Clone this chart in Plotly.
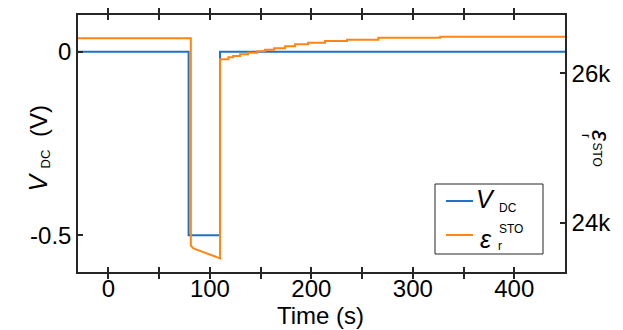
import plotly.graph_objects as go

# ---------------- data ----------------
# V_DC applied voltage (step function)
vdc_time = [-30, 79, 110, 450]
vdc_volts = [0, -0.5, 0, 0]

# dielectric constant of STO (right axis)
eps_pre_time = [-30, 81.2]
eps_pre_level = 26469
decay_time = [81.2, 83.7, 110.0]
decay_eps = [23692, 23657, 23523]
step_time = [110.0, 118.2, 122.9, 129.8, 137.6, 146.5, 154.4, 163.3, 174.1,
             184.0, 196.8, 213.5, 235.2, 266.0, 327.0]
step_eps = [26187, 26214, 26232, 26254, 26276, 26295, 26316, 26335, 26361,
            26388, 26410, 26432, 26450, 26475, 26490]
t_end = 450

x_ticks = [0, 50, 100, 150, 200, 250, 300, 350, 400]
x_ticktext = ["0", "", "100", "", "200", "", "300", "", "400"]
y_ticks = [0, -0.5]
y_ticktext = ["0", "-0.5"]
y2_ticks = [24000, 26000]
y2_ticktext = ["24k", "26k"]

# build orange trace points
eps_t = [eps_pre_time[0], eps_pre_time[1]]
eps_v = [eps_pre_level, eps_pre_level]
eps_t += decay_time
eps_v += decay_eps
for i, (t, v) in enumerate(zip(step_time, step_eps)):
    t_next = step_time[i + 1] if i + 1 < len(step_time) else t_end
    eps_t += [t, t_next]
    eps_v += [v, v]

BLUE = "#1f72c4"
ORANGE = "#ff8514"
AX = "#262626"
FONT = "Liberation Sans, Arial, Helvetica, sans-serif"

fig = go.Figure()
fig.add_trace(go.Scatter(x=vdc_time, y=vdc_volts, mode="lines", line_shape="hv",
                         line=dict(color=BLUE, width=2), yaxis="y", showlegend=False))
fig.add_trace(go.Scatter(x=eps_t, y=eps_v, mode="lines",
                         line=dict(color=ORANGE, width=2), yaxis="y2", showlegend=False))

W, H = 623, 330
L, R, T, B = 78, 58, 15, 58
PW, PH = W - L - R, H - T - B


def px(x):
    return (x - L) / PW


def py(y):
    return (H - B - y) / PH


fig.update_layout(
    width=W, height=H, margin=dict(l=L, r=R, t=T, b=B, autoexpand=False),
    plot_bgcolor="white", paper_bgcolor="white",
    font=dict(family=FONT, size=24, color="black"),
    xaxis=dict(range=[-30, 450], tickvals=x_ticks, ticktext=x_ticktext,
               ticks="inside", ticklen=5, tickcolor=AX, tickwidth=1.5,
               ticklabelstandoff=-6,
               showline=True, linecolor=AX, linewidth=1.5, mirror="allticks",
               showgrid=False, zeroline=False, automargin=False),
    yaxis=dict(range=[-0.6, 0.1], tickvals=y_ticks, ticktext=y_ticktext,
               ticks="inside", ticklen=5, tickcolor=AX, tickwidth=1.5,
               showline=True, linecolor=AX, linewidth=1.5,
               showgrid=False, zeroline=False, automargin=False),
    yaxis2=dict(range=[23340, 26780], tickvals=y2_ticks, ticktext=y2_ticktext,
                overlaying="y", side="right",
                ticks="inside", ticklen=5, tickcolor=AX, tickwidth=1.5,
                showline=True, linecolor=AX, linewidth=1.5,
                showgrid=False, zeroline=False, automargin=False),
)

shapes = []
annotations = []


def text(xp, yp, s, size, angle=0, italic=False):
    annotations.append(dict(
        x=px(xp), y=py(yp), xref="paper", yref="paper", text=s, showarrow=False,
        xanchor="center", yanchor="middle", textangle=angle,
        font=dict(family=FONT, size=size, color="black",
                  style="italic" if italic else "normal")))


# x axis title
text(320, 315, "Time (s)", 24)

# left axis title
text(38, 121, "(V)", 24, -90)
text(45, 159.5, "DC", 13, -90)
text(37, 182.5, "V", 25, -90, italic=True)

# right axis title
text(601, 136, "ε", 25, 90, italic=True)
text(597, 154.5, "STO", 12, 90)
text(586, 136, "r", 12, 90)

# legend
shapes.append(dict(type="rect", xref="paper", yref="paper",
                   x0=px(435), x1=px(543), y0=py(254), y1=py(184),
                   line=dict(color=AX, width=1), fillcolor="white", layer="above"))
shapes.append(dict(type="line", xref="paper", yref="paper",
                   x0=px(446), x1=px(473), y0=py(201), y1=py(201),
                   line=dict(color=BLUE, width=2), layer="above"))
shapes.append(dict(type="line", xref="paper", yref="paper",
                   x0=px(446), x1=px(473), y0=py(235), y1=py(235),
                   line=dict(color=ORANGE, width=2), layer="above"))
text(485, 199, "V", 25, italic=True)
text(507.5, 208, "DC", 12)
text(486, 239, "ε", 25, italic=True)
text(510.5, 229, "STO", 12)
text(500, 246, "r", 12)

fig.update_layout(shapes=shapes, annotations=annotations)
fig.write_html("out.html", config={"displayModeBar": False},
               post_script="document.body.style.margin='0';document.body.style.padding='0';")
